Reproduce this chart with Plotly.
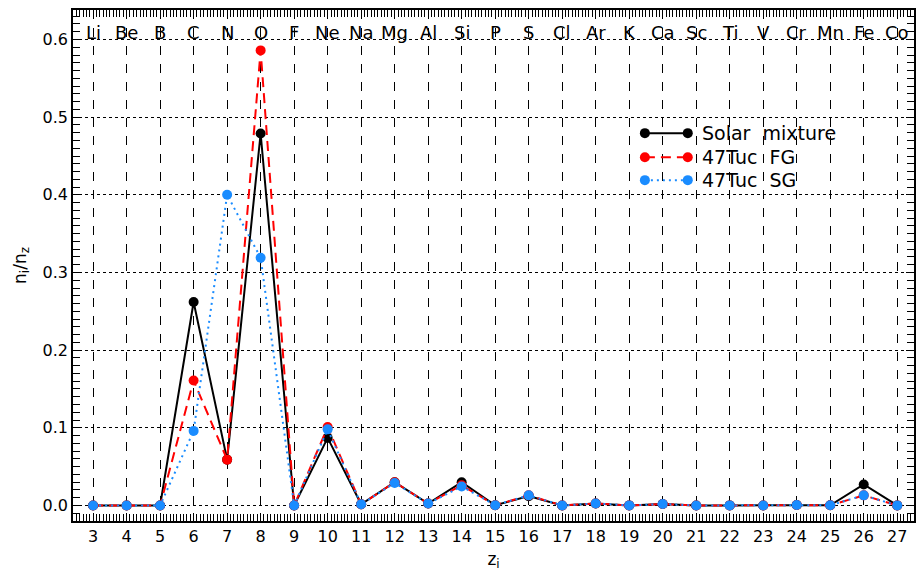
import plotly.graph_objects as go

z = list(range(3, 28))
elements = ["Li", "Be", "B", "C", "N", "O", "F", "Ne", "Na", "Mg", "Al", "Si", "P",
            "S", "Cl", "Ar", "K", "Ca", "Sc", "Ti", "V", "Cr", "Mn", "Fe", "Co"]

solar = [0.0, 0.0, 0.0, 0.262, 0.059, 0.479, 0.0, 0.087, 0.0015, 0.030, 0.0025, 0.030, 0.0003,
         0.012, 0.0, 0.0026, 0.0001, 0.0018, 0.0, 0.0001, 0.0, 0.0005, 0.0003, 0.027, 0.0001]
fg = [0.0, 0.0, 0.0, 0.161, 0.059, 0.586, 0.0, 0.101, 0.0015, 0.030, 0.0025, 0.026, 0.0003,
      0.013, 0.0, 0.0026, 0.0001, 0.0018, 0.0, 0.0001, 0.0, 0.0005, 0.0003, 0.013, 0.0001]
sg = [0.0, 0.0, 0.0, 0.096, 0.400, 0.319, 0.0, 0.098, 0.0015, 0.029, 0.0025, 0.0245, 0.0003,
      0.013, 0.0, 0.0026, 0.0001, 0.0018, 0.0, 0.0001, 0.0, 0.0005, 0.0003, 0.013, 0.0001]

series = [
    ("Solar  mixture", solar, "black", "solid"),
    ("47Tuc  FG", fg, "#ff0000", "10px,6px"),
    ("47Tuc  SG", sg, "#1a8cff", "2px,4px"),
]

FONT = "DejaVu Sans"
fig = go.Figure()
for name, vals, col, dash in series:
    fig.add_trace(go.Scatter(x=z, y=vals, mode="lines+markers", name=name,
                             line=dict(color=col, width=2, dash=dash),
                             marker=dict(color=col, size=10), showlegend=False))

# manual legend (lines with markers at both ends) on an overlay paper-like axis
leg_y = [0.759, 0.712, 0.667]
for (name, vals, col, dash), ly in zip(series, leg_y):
    fig.add_trace(go.Scatter(x=[0.680, 0.731], y=[ly, ly], xaxis="x2", yaxis="y2",
                             mode="lines+markers", showlegend=False, hoverinfo="skip",
                             line=dict(color=col, width=2, dash=dash),
                             marker=dict(color=col, size=10)))
    fig.add_annotation(x=0.745, y=ly, xref="x2", yref="y2", text=name, showarrow=False,
                       xanchor="left", yanchor="middle",
                       font=dict(family=FONT, size=19, color="black"))

for zi, el in zip(z, elements):
    fig.add_annotation(x=zi, y=0.609, xref="x", yref="y", text=el, showarrow=False,
                       xanchor="center", yanchor="middle",
                       font=dict(family=FONT, size=18, color="black"))

fig.update_layout(
    width=920, height=579,
    margin=dict(l=73, r=4, t=10, b=58),
    paper_bgcolor="white", plot_bgcolor="white",
    font=dict(family=FONT, size=16, color="black"),
    xaxis=dict(range=[2.4, 27.5], tickmode="linear", tick0=3, dtick=1,
               showline=True, linecolor="black", linewidth=1.5, mirror="allticks",
               ticks="inside", ticklen=8, tickcolor="black",
               showgrid=True, gridcolor="black", griddash="dash", gridwidth=1,
               minor=dict(dtick=0.1, ticks="inside", ticklen=7, tickcolor="black", showgrid=False),
               zeroline=False, title=dict(text="z<sub>i</sub>", font=dict(size=17), standoff=8),
               tickfont=dict(size=16)),
    yaxis=dict(range=[-0.02, 0.638], tickmode="linear", tick0=0, dtick=0.1, tickformat=".1f",
               showline=True, linecolor="black", linewidth=1.5, mirror="allticks",
               ticks="inside", ticklen=8, tickcolor="black",
               showgrid=True, gridcolor="black", griddash="dot", gridwidth=1,
               minor=dict(dtick=0.01, ticks="inside", ticklen=7, tickcolor="black", showgrid=False),
               zeroline=False, title=dict(text="n<sub>i</sub>/n<sub>z</sub>", font=dict(size=17), standoff=12),
               tickfont=dict(size=16)),
    xaxis2=dict(range=[0, 1], overlaying="x", visible=False, fixedrange=True),
    yaxis2=dict(range=[0, 1], overlaying="y", visible=False, fixedrange=True),
)

fig.write_html("out.html")
